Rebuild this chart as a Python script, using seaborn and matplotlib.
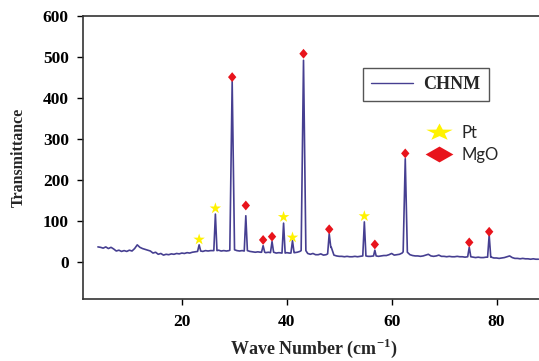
import numpy as np
import pandas as pd
import matplotlib
matplotlib.use("Agg")
import matplotlib.pyplot as plt
import seaborn as sns
from matplotlib.path import Path
from matplotlib.lines import Line2D

# ---------------- data ----------------
base_start = 4.0
base_step = 0.5
baseline = [
    37, 36, 34, 37, 33, 36, 32, 27, 29, 26, 28, 26, 29, 27, 33, 42, 36, 33, 31, 29,   # 4.0-13.5
    27, 22, 24, 19, 21, 17, 19, 18, 20, 19, 21, 20, 22, 21, 23, 22, 24, 25, 26, 27,   # 14.0-23.5
    26, 28, 27, 28, 28, 28, 29, 27, 28, 27, 28, 29, 30, 28, 27, 28, 27, 28, 26, 25,   # 24.0-33.5
    24, 25, 24, 24, 23, 24, 23, 24, 22, 23, 22, 22, 23, 22, 22, 23, 24, 26, 28, 28,   # 34.0-43.5
    21, 19, 21, 18, 18, 20, 17, 18, 20, 36, 17, 15, 14, 14, 13, 14, 13, 13, 14, 13,   # 44.0-53.5
    14, 15, 15, 14, 14, 15, 15, 14, 15, 16, 16, 18, 21, 17, 18, 19, 22, 25, 24, 18,   # 54.0-63.5
    16, 15, 15, 14, 15, 17, 19, 15, 14, 15, 17, 14, 14, 13, 14, 13, 13, 14, 13, 13,   # 64.0-73.5
    12, 13, 13, 12, 11, 12, 11, 11, 12, 12, 12, 10, 10, 9, 10, 11, 13, 15, 11, 9,     # 74.0-83.5
    9, 8, 9, 8, 8, 7, 8, 7, 7,                                                        # 84.0-88.0
]
peak_x = [23.3, 26.4, 29.6, 32.2, 35.5, 37.2, 39.4, 41.1, 43.2, 48.1, 54.8, 56.8, 62.6, 74.8, 78.6]
peak_y = [42, 117, 440, 113, 40, 50, 95, 52, 492, 69, 98, 29, 252, 36, 66]
peak_hw = [0.3, 0.3, 0.45, 0.3, 0.3, 0.3, 0.3, 0.3, 0.45, 0.3, 0.3, 0.25, 0.4, 0.3, 0.3]

pt_x = [23.3, 26.4, 39.4, 41.1, 54.8]
pt_y = [55, 131, 110, 60, 112]
mgo_x = [29.6, 32.2, 35.5, 37.2, 43.2, 48.1, 56.8, 62.6, 74.8, 78.6]
mgo_y = [451, 138, 54, 62, 508, 80, 43, 265, 48, 74]

series_label = "CHNM"
marker_labels = ["Pt", "MgO"]
x_ticks = [20, 40, 60, 80]
y_ticks = [0, 100, 200, 300, 400, 500, 600]

# ---------------- build the spectrum from the read values ----------------
bx = base_start + base_step * np.arange(len(baseline))
by = np.array(baseline, dtype=float)
keep = np.ones(len(bx), dtype=bool)
for c, hw in zip(peak_x, peak_hw):
    keep &= ~((bx > c - hw) & (bx < c + hw))
xs = list(bx[keep])
ys = list(by[keep])
for c, h, hw in zip(peak_x, peak_y, peak_hw):
    left_foot = by[int(np.floor((c - base_start) / base_step))]
    right_foot = by[int(np.ceil((c - base_start) / base_step))]
    xs += [c - hw, c, c + hw]
    ys += [left_foot, h, right_foot]
df = pd.DataFrame({"x": xs, "y": ys}).sort_values("x").reset_index(drop=True)

# ---------------- style ----------------
sns.set_style("ticks")
plt.rcParams["font.family"] = ["Liberation Serif", "DejaVu Serif"]
plt.rcParams["font.weight"] = "bold"
plt.rcParams["mathtext.fontset"] = "custom"
plt.rcParams["mathtext.rm"] = "Liberation Serif:bold"
plt.rcParams["mathtext.bf"] = "Liberation Serif:bold"

line_color = "#463f91"
yellow = "#fff200"
red = "#e8141c"

fig = plt.figure(figsize=(5.39, 3.61), dpi=100)
ax = fig.add_axes([82.7 / 539, 1 - 299 / 361, 1 - 82.7 / 539, (299 - 16) / 361])

sns.lineplot(data=df, x="x", y="y", estimator=None, sort=True, color=line_color,
             lw=1.2, ax=ax, legend=False, zorder=2)

peak_diamond = Path([(0, 1), (0.85, 0), (0, -1), (-0.85, 0), (0, 1)],
                    [Path.MOVETO, Path.LINETO, Path.LINETO, Path.LINETO, Path.CLOSEPOLY])
sns.scatterplot(x=pt_x, y=pt_y, marker="*", s=75, color=yellow, edgecolor="none",
                ax=ax, legend=False, zorder=3)
sns.scatterplot(x=mgo_x, y=mgo_y, marker=peak_diamond, s=50, color=red, edgecolor="none",
                ax=ax, legend=False, zorder=3)

ax.set_xlim(1.1, 88.1)
ax.set_ylim(-90, 600)
ax.set_xticks(x_ticks)
ax.set_yticks(y_ticks)
ax.tick_params(axis="both", labelsize=12.5, colors="black", width=1.0)
ax.tick_params(axis="y", length=4, pad=6)
ax.tick_params(axis="x", length=4, pad=7)
for lab in ax.get_xticklabels() + ax.get_yticklabels():
    lab.set_fontweight("bold")
for side in ["left", "bottom", "top"]:
    ax.spines[side].set_visible(True)
    ax.spines[side].set_color("#333333")
    ax.spines[side].set_linewidth(1.2)
ax.spines["right"].set_visible(False)

ax.set_ylabel("Transmittance", fontsize=11.5, fontweight="bold")
ax.yaxis.set_label_coords(-0.123, 0.5)
ax.set_xlabel(r"Wave Number (cm$^{\mathbf{-1}}$)", fontsize=13, fontweight="bold")
ax.xaxis.set_label_coords(0.507, -0.135)

# legend 1: series
h1 = Line2D([], [], color=line_color, lw=1.0)
leg1 = ax.legend([h1], [series_label], loc="upper left",
                 bbox_to_anchor=(363 / 539, 1 - 68 / 361), bbox_transform=fig.transFigure,
                 borderaxespad=0, borderpad=0.45, handlelength=2.3, handletextpad=0.6,
                 fancybox=False, framealpha=1, edgecolor="#555555",
                 prop={"family": "Liberation Serif", "weight": "bold", "size": 13})
leg1.get_frame().set_linewidth(1.0)
ax.add_artist(leg1)

# legend 2: marker key
sv = Path.unit_regular_star(5, innerCircle=0.4).vertices * np.array([1.0, 0.65])
flat_star = Path(sv)
flat_diamond = Path([(-1, 0), (0, 0.57), (1, 0), (0, -0.57), (-1, 0)],
                    [Path.MOVETO, Path.LINETO, Path.LINETO, Path.LINETO, Path.CLOSEPOLY])
h_pt = Line2D([], [], ls="none", marker=flat_star, ms=19, color=yellow, mec="none")
h_mg = Line2D([], [], ls="none", marker=flat_diamond, ms=20, color=red, mec="none")
leg2 = ax.legend([h_pt, h_mg], marker_labels, loc="upper left",
                 bbox_to_anchor=(422.7 / 539, 1 - 125 / 361), bbox_transform=fig.transFigure,
                 borderaxespad=0, borderpad=0, frameon=False, handlelength=1.9,
                 handletextpad=0.45, labelspacing=0.35,
                 prop={"family": "Lato", "weight": "normal", "size": 12})

fig.savefig("out.png", dpi=100)
